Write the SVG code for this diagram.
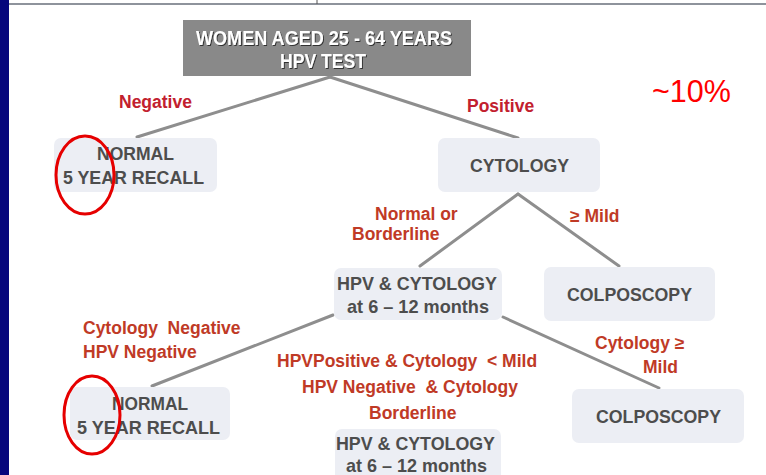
<svg xmlns="http://www.w3.org/2000/svg" width="766" height="475" viewBox="0 0 766 475">
<defs>
<style>
.bg{fill:#ffffff}
.node{fill:#eceef4}
.ntext{font-family:"Liberation Sans",Arial,sans-serif;font-weight:bold;font-size:19px;fill:#4d4d4d;text-anchor:middle}
.ttext{font-family:"Liberation Sans",Arial,sans-serif;font-weight:bold;font-size:21px;fill:#ffffff;text-anchor:middle}
.lbl{font-family:"Liberation Sans",Arial,sans-serif;font-weight:bold;font-size:17.5px;fill:#c03a26}
.lbl2{font-family:"Liberation Sans",Arial,sans-serif;font-weight:bold;font-size:17.5px;fill:#c2202e}
.conn{stroke:#8e8e8e;stroke-width:3;fill:none;stroke-linecap:round}
.ring{fill:none;stroke:#e60000;stroke-width:3}
</style>
<filter id="sh" x="-10%" y="-30%" width="120%" height="160%">
<feDropShadow dx="1" dy="1" stdDeviation="0.6" flood-color="#2a2a2a" flood-opacity="0.9"/>
</filter>
</defs>
<rect class="bg" x="0" y="0" width="766" height="475"/>
<rect x="0" y="0" width="9" height="475" fill="#06067c"/>
<line x1="9" y1="4" x2="766" y2="4" stroke="#8e939c" stroke-width="2"/>
<line x1="317" y1="0" x2="317" y2="4" stroke="#555" stroke-width="1"/>

<g id="connectors">
<line class="conn" x1="330" y1="77" x2="137" y2="137"/>
<line class="conn" x1="330" y1="77" x2="518" y2="138"/>
<line class="conn" x1="518" y1="194" x2="420" y2="266"/>
<line class="conn" x1="518" y1="194" x2="619" y2="266"/>
<line class="conn" x1="333" y1="315" x2="152" y2="386"/>
<line class="conn" x1="503" y1="317" x2="659" y2="388"/>
</g>

<g id="labels">
<text class="lbl2" x="119" y="108">Negative</text>
<text class="lbl2" x="467" y="112">Positive</text>
<text class="lbl" x="375" y="220">Normal or</text>
<text class="lbl" x="352" y="240">Borderline</text>
<text class="lbl" x="570" y="222">≥ Mild</text>
<text class="lbl" x="83" y="334" xml:space="preserve">Cytology  Negative</text>
<text class="lbl" x="83" y="358">HPV Negative</text>
<text class="lbl" x="277" y="367" xml:space="preserve">HPVPositive &amp; Cytology  &lt; Mild</text>
<text class="lbl" x="302" y="393" xml:space="preserve">HPV Negative  &amp; Cytology</text>
<text class="lbl" x="369" y="419">Borderline</text>
<text class="lbl" x="595" y="349">Cytology ≥</text>
<text class="lbl" x="643" y="373">Mild</text>
<text x="652" y="102" font-family="Liberation Sans,Arial,sans-serif" font-size="30.5" fill="#ff0000">~10%</text>
</g>

<g id="top">
<rect x="183" y="20" width="288" height="56" fill="#898989"/>
<g filter="url(#sh)">
<text class="ttext" x="324" y="45" textLength="256" lengthAdjust="spacingAndGlyphs">WOMEN AGED 25 - 64 YEARS</text>
<text class="ttext" x="323" y="68" textLength="86" lengthAdjust="spacingAndGlyphs">HPV TEST</text>
</g>
</g>

<g id="normal1">
<rect class="node" x="54" y="138" width="163" height="54" rx="7"/>
<text class="ntext" x="135.5" y="160" textLength="77" lengthAdjust="spacingAndGlyphs">NORMAL</text>
<text class="ntext" x="133.5" y="184" textLength="141" lengthAdjust="spacingAndGlyphs">5 YEAR RECALL</text>
</g>

<g id="cytology">
<rect class="node" x="438" y="138" width="162" height="54" rx="7"/>
<text class="ntext" x="519.5" y="172" textLength="99" lengthAdjust="spacingAndGlyphs">CYTOLOGY</text>
</g>

<g id="hpvcyt1">
<rect class="node" x="334" y="268" width="168" height="52" rx="7"/>
<text class="ntext" x="417" y="290" textLength="160" lengthAdjust="spacingAndGlyphs">HPV &amp; CYTOLOGY</text>
<text class="ntext" x="418" y="313" textLength="142" lengthAdjust="spacingAndGlyphs">at 6 – 12 months</text>
</g>

<g id="colposcopy1">
<rect class="node" x="544" y="267" width="171" height="54" rx="7"/>
<text class="ntext" x="629.5" y="301" textLength="125" lengthAdjust="spacingAndGlyphs">COLPOSCOPY</text>
</g>

<g id="normal2">
<rect class="node" x="70" y="387" width="160" height="53" rx="7"/>
<text class="ntext" x="150" y="410" textLength="76" lengthAdjust="spacingAndGlyphs">NORMAL</text>
<text class="ntext" x="148.5" y="434" textLength="143" lengthAdjust="spacingAndGlyphs">5 YEAR RECALL</text>
</g>

<g id="colposcopy2">
<rect class="node" x="572" y="389" width="172" height="54" rx="7"/>
<text class="ntext" x="658.5" y="423" textLength="125" lengthAdjust="spacingAndGlyphs">COLPOSCOPY</text>
</g>

<g id="hpvcyt2">
<rect class="node" x="335" y="429" width="166" height="52" rx="7"/>
<text class="ntext" x="415.5" y="450" textLength="159" lengthAdjust="spacingAndGlyphs">HPV &amp; CYTOLOGY</text>
<text class="ntext" x="416.5" y="472" textLength="141" lengthAdjust="spacingAndGlyphs">at 6 – 12 months</text>
</g>

<g id="annotations">
<ellipse class="ring" cx="85" cy="175" rx="29" ry="39"/>
<ellipse class="ring" cx="92" cy="415" rx="28" ry="39"/>
</g>
</svg>
